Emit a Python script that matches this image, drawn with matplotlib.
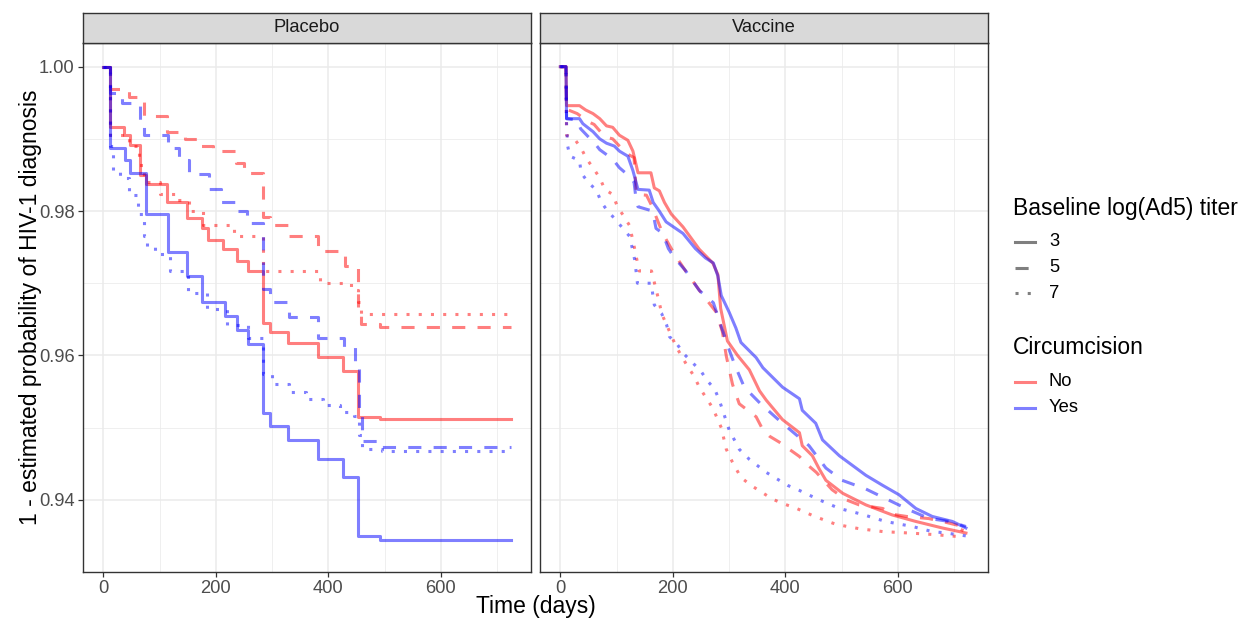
import matplotlib
matplotlib.use("Agg")
import matplotlib.pyplot as plt
from matplotlib.lines import Line2D

plt.rcParams['font.family'] = ['Liberation Sans', 'DejaVu Sans']

# ========================
# 数据 (读自参考图)
# ========================
panels = ['Placebo', 'Vaccine']
titers = ['3', '5', '7']
circ_levels = ['No', 'Yes']

# Placebo: step curves (days, 1 - prob)
pl_no_3_t = [0, 12, 36, 48, 66, 75, 113, 149, 175, 186, 213, 237, 258, 284, 296, 328, 382, 426, 452, 492, 724]
pl_no_3_s = [1.0, 0.9917, 0.9905, 0.9891, 0.9850, 0.9837, 0.9812, 0.9790, 0.9776, 0.9760, 0.9747,
             0.9731, 0.9717, 0.9645, 0.9632, 0.9617, 0.9598, 0.9579, 0.9515, 0.9512, 0.9512]
pl_yes_3_t = [0, 12, 39, 48, 75, 115, 149, 175, 217, 237, 258, 284, 296, 328, 382, 426, 452, 492, 724]
pl_yes_3_s = [1.0, 0.9887, 0.9871, 0.9853, 0.9796, 0.9743, 0.9710, 0.9674, 0.9654, 0.9635, 0.9616,
              0.9520, 0.9502, 0.9483, 0.9456, 0.9431, 0.9350, 0.9344, 0.9344]
pl_no_5_t = [0, 11, 45, 72, 114, 145, 172, 195, 236, 250, 284, 296, 330, 382, 430, 452, 458, 492, 724]
pl_no_5_s = [1.0, 0.9969, 0.9958, 0.9932, 0.9910, 0.9900, 0.9890, 0.9883, 0.9867, 0.9853, 0.9792,
             0.9780, 0.9766, 0.9744, 0.9724, 0.9660, 0.9644, 0.9639, 0.9639]
pl_yes_5_t = [0, 11, 33, 66, 72, 115, 135, 152, 188, 210, 238, 255, 284, 296, 330, 382, 428, 448,
              455, 460, 495, 724]
pl_yes_5_s = [1.0, 0.9964, 0.9950, 0.9925, 0.9905, 0.9887, 0.9871, 0.9852, 0.9830, 0.9812, 0.9800,
              0.9783, 0.9692, 0.9674, 0.9653, 0.9624, 0.9612, 0.9590, 0.9524, 0.9482, 0.9473, 0.9473]
pl_no_7_t = [0, 11, 45, 63, 72, 100, 128, 152, 178, 232, 284, 385, 440, 452, 458, 724]
pl_no_7_s = [1.0, 0.9905, 0.9890, 0.9864, 0.9840, 0.9823, 0.9815, 0.9800, 0.9780, 0.9765, 0.9717,
             0.9701, 0.9690, 0.9674, 0.9658, 0.9658]
pl_yes_7_t = [0, 11, 18, 30, 45, 62, 72, 78, 92, 118, 150, 185, 220, 258, 284, 300, 330, 360, 390,
              420, 445, 455, 460, 495, 724]
pl_yes_7_s = [1.0, 0.9890, 0.9856, 0.9846, 0.9822, 0.9796, 0.9765, 0.9750, 0.9740, 0.9717, 0.9687,
              0.9665, 0.9642, 0.9624, 0.9574, 0.9560, 0.9550, 0.9540, 0.9531, 0.9522, 0.9516, 0.9490,
              0.9470, 0.9467, 0.9467]

# Vaccine: dense curves
va_no_3_t = [0, 10, 11, 34, 45, 58, 70, 82, 93, 105, 120, 129, 138, 161, 167, 176, 185, 197, 218, 247,
             271, 280, 285, 297, 315, 336, 354, 366, 395, 425, 430, 448, 460, 472, 502, 543, 590, 632,
             679, 721]
va_no_3_s = [1.0, 1.0, 0.9946, 0.9946, 0.9940, 0.9935, 0.9928, 0.9918, 0.9916, 0.9905, 0.9898, 0.9883,
             0.9853, 0.9853, 0.9832, 0.9828, 0.9812, 0.9796, 0.9778, 0.9747, 0.9728, 0.9712, 0.9665,
             0.9620, 0.9600, 0.9580, 0.9551, 0.9538, 0.9511, 0.9493, 0.9475, 0.9461, 0.9443, 0.9427,
             0.9409, 0.9393, 0.9379, 0.9370, 0.9361, 0.9354]
va_yes_3_t = [0, 10, 11, 34, 40, 58, 70, 82, 96, 105, 120, 129, 138, 158, 165, 175, 188, 218, 240, 258,
              272, 280, 286, 300, 312, 321, 348, 360, 395, 425, 430, 454, 466, 496, 543, 573, 602, 632,
              661, 697, 721]
va_yes_3_s = [1.0, 1.0, 0.9928, 0.9928, 0.9921, 0.9910, 0.9900, 0.9894, 0.9890, 0.9883, 0.9876, 0.9856,
              0.9830, 0.9829, 0.9812, 0.9801, 0.9785, 0.9769, 0.9748, 0.9735, 0.9728, 0.9710, 0.9683,
              0.9660, 0.9638, 0.9618, 0.9597, 0.9583, 0.9556, 0.9540, 0.9524, 0.9506, 0.9483, 0.9461,
              0.9434, 0.9420, 0.9407, 0.9388, 0.9377, 0.9370, 0.9361]
va_no_5_t = [0, 10, 11, 30, 49, 60, 79, 93, 117, 131, 135, 153, 162, 182, 203, 226, 251, 277, 288, 295,
             306, 318, 348, 360, 372, 389, 407, 425, 437, 455, 483, 508, 531, 573, 590, 615, 655, 679, 721]
va_no_5_s = [1.0, 1.0, 0.9941, 0.9935, 0.9924, 0.9920, 0.9903, 0.9900, 0.9880, 0.9874, 0.9823, 0.9822,
             0.9808, 0.9769, 0.9740, 0.9713, 0.9686, 0.9660, 0.9633, 0.9599, 0.9560, 0.9533, 0.9515,
             0.9497, 0.9488, 0.9480, 0.9470, 0.9460, 0.9450, 0.9438, 0.9414, 0.9400, 0.9393, 0.9388,
             0.9380, 0.9377, 0.9374, 0.9370, 0.9362]
va_yes_5_t = [0, 10, 11, 30, 36, 63, 70, 93, 105, 120, 131, 134, 138, 164, 170, 182, 192, 203, 222, 247,
              272, 286, 299, 311, 327, 356, 389, 442, 472, 501, 543, 580, 620, 656, 692, 721]
va_yes_5_s = [1.0, 1.0, 0.9928, 0.9926, 0.9914, 0.9892, 0.9885, 0.9872, 0.9860, 0.9850, 0.9840, 0.9820,
              0.9806, 0.9800, 0.9776, 0.9769, 0.9748, 0.9735, 0.9718, 0.9690, 0.9673, 0.9640, 0.9610,
              0.9585, 0.9556, 0.9533, 0.9510, 0.9475, 0.9444, 0.9427, 0.9415, 0.9401, 0.9386, 0.9374,
              0.9370, 0.9363]
va_no_7_t = [0, 10, 11, 25, 37, 46, 58, 70, 79, 93, 102, 111, 123, 132, 140, 162, 176, 180, 206, 217,
             226, 238, 247, 271, 286, 295, 306, 321, 339, 357, 377, 395, 420, 452, 490, 531, 573, 620,
             661, 709, 721]
va_no_7_s = [1.0, 1.0, 0.9905, 0.9900, 0.9887, 0.9873, 0.9860, 0.9846, 0.9830, 0.9823, 0.9805, 0.9795,
             0.9780, 0.9748, 0.9717, 0.9717, 0.9673, 0.9658, 0.9612, 0.9597, 0.9585, 0.9571, 0.9556,
             0.9527, 0.9500, 0.9470, 0.9452, 0.9431, 0.9420, 0.9411, 0.9401, 0.9395, 0.9388, 0.9377,
             0.9366, 0.9360, 0.9356, 0.9354, 0.9352, 0.9349, 0.9370]
va_yes_7_t = [0, 10, 11, 13, 17, 34, 37, 49, 64, 73, 84, 96, 109, 123, 128, 132, 135, 137, 162, 164,
              167, 180, 189, 194, 208, 221, 235, 251, 261, 274, 283, 300, 318, 336, 366, 404, 425, 460,
              496, 536, 578, 626, 661, 686, 721]
va_yes_7_s = [1.0, 1.0, 0.9921, 0.9890, 0.9876, 0.9870, 0.9853, 0.9840, 0.9829, 0.9812, 0.9800, 0.9790,
              0.9778, 0.9765, 0.9748, 0.9733, 0.9714, 0.9700, 0.9700, 0.9686, 0.9670, 0.9658, 0.9642,
              0.9626, 0.9615, 0.9601, 0.9590, 0.9577, 0.9565, 0.9554, 0.9537, 0.9497, 0.9470, 0.9456,
              0.9438, 0.9420, 0.9413, 0.9400, 0.9388, 0.9380, 0.9370, 0.9363, 0.9356, 0.9354, 0.9350]

curves = {
    'Placebo': {('No', '3'): (pl_no_3_t, pl_no_3_s), ('Yes', '3'): (pl_yes_3_t, pl_yes_3_s),
                ('No', '5'): (pl_no_5_t, pl_no_5_s), ('Yes', '5'): (pl_yes_5_t, pl_yes_5_s),
                ('No', '7'): (pl_no_7_t, pl_no_7_s), ('Yes', '7'): (pl_yes_7_t, pl_yes_7_s)},
    'Vaccine': {('No', '3'): (va_no_3_t, va_no_3_s), ('Yes', '3'): (va_yes_3_t, va_yes_3_s),
                ('No', '5'): (va_no_5_t, va_no_5_s), ('Yes', '5'): (va_yes_5_t, va_yes_5_s),
                ('No', '7'): (va_no_7_t, va_no_7_s), ('Yes', '7'): (va_yes_7_t, va_yes_7_s)},
}

# 样式
circ_colors = {'No': 'red', 'Yes': 'blue'}
titer_dashes = {'3': None, '5': (4.3, 4.0), '7': (1.0, 3.0)}
LW = 2.2
TXT = 13.2
TITLE = 16.5

W, H = 1244, 622
fig = plt.figure(figsize=(W / 100, H / 100), dpi=100)

def fx(px):
    return px / W

def fy(py):
    return 1 - py / H

panel_lefts = [83, 540]
panel_w = 448
panel_top, panel_bot = 43, 572
strip_top = 13

for i, name in enumerate(panels):
    ax = fig.add_axes([fx(panel_lefts[i]), fy(panel_bot), panel_w / W, (panel_bot - panel_top) / H])
    for circ in circ_levels:
        for tt in titers:
            t, s = curves[name][(circ, tt)]
            ls = '-' if titer_dashes[tt] is None else '--'
            line, = ax.plot(t, s, color=circ_colors[circ], alpha=0.5, lw=LW, linestyle=ls,
                            drawstyle='steps-post' if name == 'Placebo' else 'default',
                            solid_joinstyle='round')
            if titer_dashes[tt] is not None:
                line.set_dashes(titer_dashes[tt])
    ax.set_xlim(-36.2, 760.2)
    ax.set_ylim(0.93115, 1.00328)
    ax.set_xticks([0, 200, 400, 600])
    ax.set_xticks([100, 300, 500, 700], minor=True)
    ax.set_yticks([0.94, 0.96, 0.98, 1.00])
    ax.set_yticks([0.93, 0.95, 0.97, 0.99], minor=True)
    ax.set_yticklabels(['0.94', '0.96', '0.98', '1.00'])
    ax.grid(which='major', color='#EBEBEB', lw=1.1)
    ax.grid(which='minor', color='#EBEBEB', lw=0.55)
    ax.set_axisbelow(True)
    for sp in ax.spines.values():
        sp.set_color('#333333')
        sp.set_linewidth(1.0)
    ax.tick_params(which='major', length=3.5, width=0.9, color='#333333',
                   labelsize=TXT, labelcolor='#4D4D4D', pad=2.5)
    ax.tick_params(which='minor', length=0)
    if i == 1:
        ax.tick_params(axis='y', which='both', left=False, labelleft=False)

    # strip
    sax = fig.add_axes([fx(panel_lefts[i]), fy(panel_top), panel_w / W, (panel_top - strip_top) / H])
    sax.set_facecolor('#D9D9D9')
    sax.set_xticks([])
    sax.set_yticks([])
    for sp in sax.spines.values():
        sp.set_color('#333333')
        sp.set_linewidth(1.0)
    sax.text(0.5, 0.5, name, ha='center', va='center', fontsize=TXT, color='#1A1A1A',
             transform=sax.transAxes)

# 轴标题
fig.text(fx(31), fy(307.5), '1 - estimated probability of HIV-1 diagnosis', rotation=90,
         ha='center', va='center', fontsize=TITLE)
fig.text(fx(535.5), fy(607), 'Time (days)', ha='center', va='center', fontsize=TITLE)

# 图例
fig.text(fx(1013), fy(208), 'Baseline log(Ad5) titer', ha='left', va='center', fontsize=TITLE)
for tt, ypx in zip(titers, [242, 268, 293]):
    ln = Line2D([fx(1015), fx(1035)], [fy(ypx), fy(ypx)], transform=fig.transFigure,
                color='black', alpha=0.5, lw=LW, linestyle='-' if titer_dashes[tt] is None else '--')
    if titer_dashes[tt] is not None:
        ln.set_dashes(titer_dashes[tt])
    fig.add_artist(ln)
    fig.text(fx(1049), fy(ypx), tt, ha='left', va='center', fontsize=TXT)

fig.text(fx(1013), fy(348), 'Circumcision', ha='left', va='center', fontsize=TITLE)
for circ, ypx in zip(circ_levels, [381.5, 407.5]):
    fig.add_artist(Line2D([fx(1015), fx(1035)], [fy(ypx), fy(ypx)], transform=fig.transFigure,
                          color=circ_colors[circ], alpha=0.5, lw=LW))
    fig.text(fx(1049), fy(ypx), circ, ha='left', va='center', fontsize=TXT)

fig.savefig('out.png', dpi=100)
